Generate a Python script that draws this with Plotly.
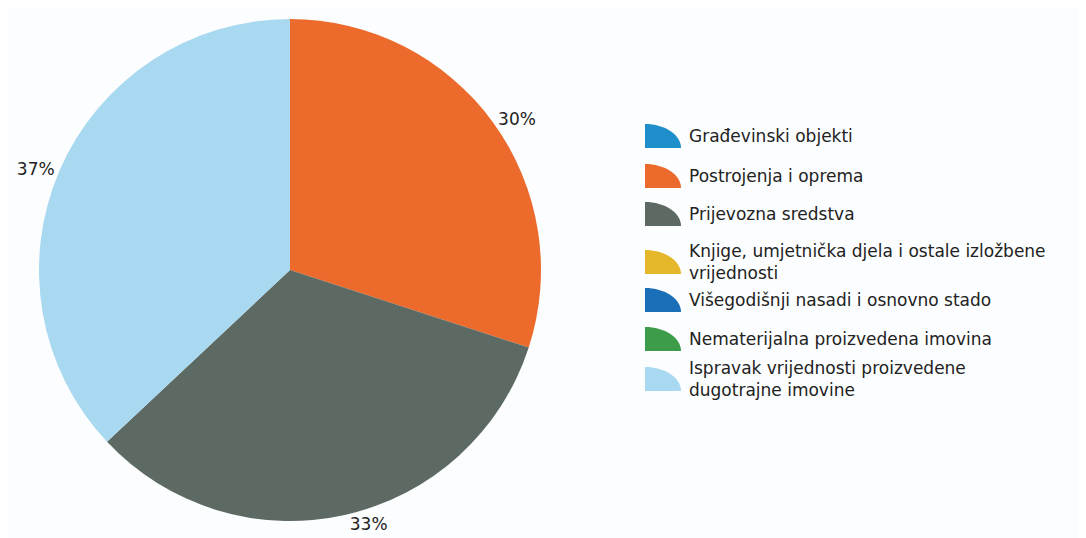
import plotly.graph_objects as go

W, H = 1086, 538
OFF = 8  # page body margin in the browser

categories = [
    "Građevinski objekti",
    "Postrojenja i oprema",
    "Prijevozna sredstva",
    "Knjige, umjetnička djela i ostale izložbene vrijednosti",
    "Višegodišnji nasadi i osnovno stado",
    "Nematerijalna proizvedena imovina",
    "Ispravak vrijednosti proizvedene dugotrajne imovine",
]
shares = [0, 30, 33, 0, 0, 0, 37]
legend_text = [
    "Građevinski objekti",
    "Postrojenja i oprema",
    "Prijevozna sredstva",
    "Knjige, umjetnička djela i ostale izložbene<br>vrijednosti",
    "Višegodišnji nasadi i osnovno stado",
    "Nematerijalna proizvedena imovina",
    "Ispravak vrijednosti proizvedene<br>dugotrajne imovine",
]
colors = ["#1f8fcc", "#ec6a2c", "#5d6a63", "#e4b82a", "#1b6fb8", "#3c9c4a", "#a9d9f0"]


def px(x):
    return (x - OFF) / W


def py(y):
    return 1 - (y - OFF) / H


# pie centre (290, 270), radius ~251 px on screen
fig = go.Figure(go.Pie(
    labels=categories,
    values=shares,
    sort=False,
    direction="clockwise",
    rotation=0,
    marker=dict(colors=colors, line=dict(width=0)),
    texttemplate=["%{percent:.0%}" if v else "" for v in shares],
    textposition="outside",
    textfont=dict(family="DejaVu Sans", size=17, color="#222"),
    domain=dict(x=[px(39), px(541)], y=[py(521), py(19)]),
    showlegend=False,
    hoverinfo="label+percent",
))

# custom legend with quarter-circle icons
row_y = [136, 176, 214, 262, 300, 339, 379]
k = 0.5523
shapes = []
annotations = []
for c, t, yc in zip(colors, legend_text, row_y):
    x0, x1 = 645, 681
    y0, y1 = yc - 12, yc + 12
    w, h = x1 - x0, y1 - y0
    path = (f"M {px(x0)},{py(y1)} L {px(x0)},{py(y0)} "
            f"C {px(x0 + k * w)},{py(y0)} {px(x1)},{py(y1 - k * h)} {px(x1)},{py(y1)} Z")
    shapes.append(dict(type="path", xref="paper", yref="paper", path=path,
                       fillcolor=c, line=dict(width=0)))
    annotations.append(dict(x=px(687), y=py(yc), xref="paper", yref="paper",
                            text=t, showarrow=False, xanchor="left", yanchor="middle",
                            align="left",
                            font=dict(family="DejaVu Sans", size=17, color="#222")))

fig.update_layout(
    width=W, height=H,
    margin=dict(l=0, r=0, t=0, b=0),
    paper_bgcolor="#fbfdfe",
    plot_bgcolor="#fbfdfe",
    shapes=shapes,
    annotations=annotations,
)

fig.write_html("out.html")
